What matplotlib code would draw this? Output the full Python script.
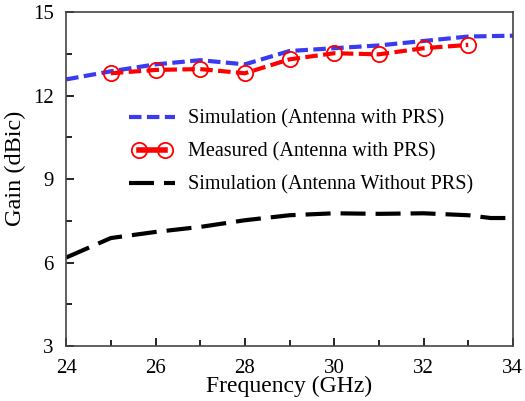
import matplotlib
matplotlib.use("Agg")
import matplotlib.pyplot as plt
from matplotlib.lines import Line2D
from matplotlib.legend_handler import HandlerLine2D
from matplotlib.ticker import MultipleLocator

plt.rcParams['font.family'] = ['Liberation Serif', 'DejaVu Serif']

# --------------------------- DATA ---------------------------

freq_sim = [24, 25, 26, 27, 28, 29, 30, 31, 32, 33, 34]
gain_sim_prs = [12.58, 12.87, 13.12, 13.27, 13.12, 13.6, 13.7, 13.8, 13.96, 14.12, 14.15]

freq_meas = [25, 26, 27, 28, 29, 30, 31, 32, 33]
gain_meas_prs = [12.8, 12.92, 12.95, 12.8, 13.3, 13.52, 13.48, 13.7, 13.82]

freq_nprs = [24, 25, 26, 27, 28, 29, 30, 31, 32, 33, 33.5, 34]
gain_sim_nprs = [6.18, 6.88, 7.1, 7.28, 7.52, 7.7, 7.77, 7.75, 7.77, 7.7, 7.6, 7.6]

labels = ['Simulation (Antenna with PRS)', 'Measured (Antenna with PRS)',
          'Simulation (Antenna Without PRS)']

BLUE = '#3a3af0'
SHORT_DASH = (3.0, 1.3)
LONG_DASH = (6.0, 2.4)

# --------------------------- PLOT ---------------------------

fig, ax = plt.subplots(figsize=(5.25, 4.01), dpi=100)
fig.subplots_adjust(left=0.126, right=0.977, top=0.97, bottom=0.137)

ax.plot(freq_sim, gain_sim_prs, color=BLUE, lw=3, dashes=SHORT_DASH)
ax.plot(freq_meas, gain_meas_prs, color='red', lw=3, dashes=SHORT_DASH,
        marker='o', ms=11, mfc='none', mec='red', mew=1.3)
ax.plot(freq_nprs, gain_sim_nprs, color='black', lw=3, dashes=LONG_DASH)

ax.set_xlim(24, 34)
ax.set_ylim(3, 15)
ax.xaxis.set_major_locator(MultipleLocator(2))
ax.xaxis.set_minor_locator(MultipleLocator(1))
ax.yaxis.set_major_locator(MultipleLocator(3))
ax.yaxis.set_minor_locator(MultipleLocator(1.5))
ax.tick_params(which='both', direction='in', labelsize=15, width=1.2)
ax.tick_params(which='major', length=6)
ax.tick_params(which='minor', length=4)
ax.tick_params(axis='x', pad=9)
ax.tick_params(axis='y', pad=9)
for s in ax.spines.values():
    s.set_linewidth(1.2)
    s.set_color('#444444')

ax.set_xlabel('Frequency (GHz)', fontsize=17, labelpad=-1)
ax.set_ylabel('Gain (dBic)', fontsize=17.5, labelpad=3)
ax.yaxis.set_label_coords(-0.09, 0.533)

# legend handles: measured entry is drawn solid with two circles
handles = [
    Line2D([], [], color=BLUE, lw=3, dashes=SHORT_DASH),
    Line2D([], [], color='red', lw=4, marker='o', ms=11, mfc='none', mec='red', mew=1.3),
    Line2D([], [], color='black', lw=3, dashes=LONG_DASH),
]
ax.legend(handles, labels, loc='upper left', bbox_to_anchor=(0.105, 0.738), frameon=False,
          fontsize=14.5, handlelength=2.9, labelspacing=0.68, handletextpad=0.3,
          numpoints=2, borderpad=0,
          handler_map={handles[1]: HandlerLine2D(numpoints=2, marker_pad=0.8)})

plt.savefig('out.png', dpi=100)
plt.close()
